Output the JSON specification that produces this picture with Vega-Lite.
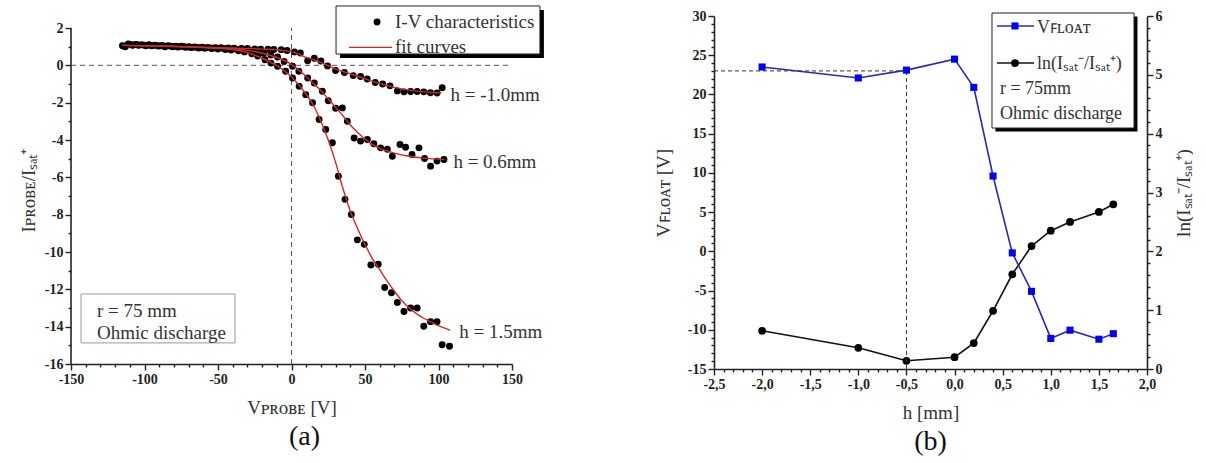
{
  "$schema": "https://vega.github.io/schema/vega-lite/v6.json",
  "background": "white",
  "padding": {"left": 19, "top": 5, "right": 0, "bottom": 0},
  "bounds": "flush",
  "spacing": 202,
  "config": {
    "view": {"stroke": null},
    "axis": {
      "grid": false,
      "labelFont": "Liberation Serif",
      "labelFontWeight": "bold",
      "labelFontSize": 14,
      "labelColor": "#222",
      "titleFont": "Liberation Serif",
      "titleFontWeight": "normal",
      "titleFontSize": 19,
      "titleColor": "#333",
      "domainColor": "#222",
      "domainWidth": 1.6,
      "tickColor": "#222",
      "tickWidth": 1.4,
      "labelOverlap": false,
      "labelFlush": false,
      "labelPadding": 2
    },
    "text": {"font": "Liberation Serif", "color": "#333"},
    "title": {"font": "Liberation Serif", "fontWeight": "normal", "fontSize": 28, "color": "#111"}
  },
  "datasets": {
    "iv": [
      {"h": "h = -1.0mm", "V": -115, "I": 1.05}, {"h": "h = -1.0mm", "V": -111, "I": 1.15}, {"h": "h = -1.0mm", "V": -106, "I": 1.12}, {"h": "h = -1.0mm", "V": -102, "I": 1.1}, {"h": "h = -1.0mm", "V": -97, "I": 1.1}, {"h": "h = -1.0mm", "V": -93, "I": 1.08}, {"h": "h = -1.0mm", "V": -88, "I": 1.07}, {"h": "h = -1.0mm", "V": -84, "I": 1.05}, {"h": "h = -1.0mm", "V": -79, "I": 1.03}, {"h": "h = -1.0mm", "V": -75, "I": 1.02}, {"h": "h = -1.0mm", "V": -70, "I": 1.0}, {"h": "h = -1.0mm", "V": -66, "I": 0.98}, {"h": "h = -1.0mm", "V": -61, "I": 0.97}, {"h": "h = -1.0mm", "V": -57, "I": 0.96}, {"h": "h = -1.0mm", "V": -52, "I": 0.95}, {"h": "h = -1.0mm", "V": -48, "I": 0.94}, {"h": "h = -1.0mm", "V": -43, "I": 0.93}, {"h": "h = -1.0mm", "V": -39, "I": 0.92}, {"h": "h = -1.0mm", "V": -34, "I": 0.9}, {"h": "h = -1.0mm", "V": -30, "I": 0.9}, {"h": "h = -1.0mm", "V": -25, "I": 0.88}, {"h": "h = -1.0mm", "V": -21, "I": 0.87}, {"h": "h = -1.0mm", "V": -16, "I": 0.86}, {"h": "h = -1.0mm", "V": -12, "I": 0.85}, {"h": "h = -1.0mm", "V": -7, "I": 0.84}, {"h": "h = -1.0mm", "V": -3, "I": 0.79}, {"h": "h = -1.0mm", "V": 2, "I": 0.72}, {"h": "h = -1.0mm", "V": 6, "I": 0.66}, {"h": "h = -1.0mm", "V": 11, "I": 0.25}, {"h": "h = -1.0mm", "V": 15.5, "I": 0.38}, {"h": "h = -1.0mm", "V": 20, "I": 0.23}, {"h": "h = -1.0mm", "V": 24.5, "I": -0.03}, {"h": "h = -1.0mm", "V": 30, "I": -0.28}, {"h": "h = -1.0mm", "V": 36, "I": -0.38}, {"h": "h = -1.0mm", "V": 42, "I": -0.55}, {"h": "h = -1.0mm", "V": 47, "I": -0.6}, {"h": "h = -1.0mm", "V": 51.5, "I": -0.73}, {"h": "h = -1.0mm", "V": 57, "I": -0.92}, {"h": "h = -1.0mm", "V": 62, "I": -1.0}, {"h": "h = -1.0mm", "V": 67, "I": -1.1}, {"h": "h = -1.0mm", "V": 72, "I": -1.37}, {"h": "h = -1.0mm", "V": 76.5, "I": -1.42}, {"h": "h = -1.0mm", "V": 81, "I": -1.4}, {"h": "h = -1.0mm", "V": 85.5, "I": -1.4}, {"h": "h = -1.0mm", "V": 90, "I": -1.42}, {"h": "h = -1.0mm", "V": 94.5, "I": -1.47}, {"h": "h = -1.0mm", "V": 99, "I": -1.48}, {"h": "h = -1.0mm", "V": 102.5, "I": -1.2},
      {"h": "h = 0.6mm", "V": -114, "I": 1.03}, {"h": "h = 0.6mm", "V": -109, "I": 1.1}, {"h": "h = 0.6mm", "V": -105, "I": 1.1}, {"h": "h = 0.6mm", "V": -100, "I": 1.08}, {"h": "h = 0.6mm", "V": -96, "I": 1.07}, {"h": "h = 0.6mm", "V": -91, "I": 1.05}, {"h": "h = 0.6mm", "V": -87, "I": 1.03}, {"h": "h = 0.6mm", "V": -82, "I": 1.03}, {"h": "h = 0.6mm", "V": -78, "I": 1.0}, {"h": "h = 0.6mm", "V": -73, "I": 1.0}, {"h": "h = 0.6mm", "V": -69, "I": 0.97}, {"h": "h = 0.6mm", "V": -64, "I": 0.96}, {"h": "h = 0.6mm", "V": -60, "I": 0.95}, {"h": "h = 0.6mm", "V": -55, "I": 0.93}, {"h": "h = 0.6mm", "V": -51, "I": 0.92}, {"h": "h = 0.6mm", "V": -46, "I": 0.9}, {"h": "h = 0.6mm", "V": -42, "I": 0.88}, {"h": "h = 0.6mm", "V": -37, "I": 0.85}, {"h": "h = 0.6mm", "V": -33, "I": 0.82}, {"h": "h = 0.6mm", "V": -28, "I": 0.78}, {"h": "h = 0.6mm", "V": -24, "I": 0.72}, {"h": "h = 0.6mm", "V": -19, "I": 0.64}, {"h": "h = 0.6mm", "V": -14, "I": 0.55}, {"h": "h = 0.6mm", "V": -9.5, "I": 0.45}, {"h": "h = 0.6mm", "V": -5, "I": 0.21}, {"h": "h = 0.6mm", "V": 0.7, "I": -0.05}, {"h": "h = 0.6mm", "V": 5, "I": -0.32}, {"h": "h = 0.6mm", "V": 11, "I": -0.68}, {"h": "h = 0.6mm", "V": 15.5, "I": -0.95}, {"h": "h = 0.6mm", "V": 21, "I": -1.39}, {"h": "h = 0.6mm", "V": 25, "I": -1.9}, {"h": "h = 0.6mm", "V": 30, "I": -2.3}, {"h": "h = 0.6mm", "V": 34.6, "I": -2.28}, {"h": "h = 0.6mm", "V": 38, "I": -3.0}, {"h": "h = 0.6mm", "V": 42.6, "I": -3.89}, {"h": "h = 0.6mm", "V": 47, "I": -4.06}, {"h": "h = 0.6mm", "V": 51.6, "I": -3.97}, {"h": "h = 0.6mm", "V": 56, "I": -4.2}, {"h": "h = 0.6mm", "V": 60.6, "I": -4.42}, {"h": "h = 0.6mm", "V": 65.2, "I": -4.5}, {"h": "h = 0.6mm", "V": 68.6, "I": -4.87}, {"h": "h = 0.6mm", "V": 73.8, "I": -4.24}, {"h": "h = 0.6mm", "V": 77.6, "I": -4.39}, {"h": "h = 0.6mm", "V": 82, "I": -4.78}, {"h": "h = 0.6mm", "V": 86.7, "I": -4.42}, {"h": "h = 0.6mm", "V": 90.5, "I": -4.99}, {"h": "h = 0.6mm", "V": 94.6, "I": -5.4}, {"h": "h = 0.6mm", "V": 99, "I": -5.13}, {"h": "h = 0.6mm", "V": 103.7, "I": -5.04},
      {"h": "h = 1.5mm", "V": -113, "I": 1.0}, {"h": "h = 1.5mm", "V": -108, "I": 1.08}, {"h": "h = 1.5mm", "V": -104, "I": 1.07}, {"h": "h = 1.5mm", "V": -99, "I": 1.05}, {"h": "h = 1.5mm", "V": -95, "I": 1.05}, {"h": "h = 1.5mm", "V": -90, "I": 1.03}, {"h": "h = 1.5mm", "V": -86, "I": 1.0}, {"h": "h = 1.5mm", "V": -81, "I": 1.0}, {"h": "h = 1.5mm", "V": -77, "I": 0.98}, {"h": "h = 1.5mm", "V": -72, "I": 0.97}, {"h": "h = 1.5mm", "V": -68, "I": 0.95}, {"h": "h = 1.5mm", "V": -63, "I": 0.93}, {"h": "h = 1.5mm", "V": -59, "I": 0.92}, {"h": "h = 1.5mm", "V": -54, "I": 0.9}, {"h": "h = 1.5mm", "V": -50, "I": 0.87}, {"h": "h = 1.5mm", "V": -45, "I": 0.85}, {"h": "h = 1.5mm", "V": -41, "I": 0.82}, {"h": "h = 1.5mm", "V": -36, "I": 0.78}, {"h": "h = 1.5mm", "V": -32, "I": 0.72}, {"h": "h = 1.5mm", "V": -27, "I": 0.62}, {"h": "h = 1.5mm", "V": -23, "I": 0.5}, {"h": "h = 1.5mm", "V": -18, "I": 0.3}, {"h": "h = 1.5mm", "V": -14, "I": 0.12}, {"h": "h = 1.5mm", "V": -9.5, "I": -0.05}, {"h": "h = 1.5mm", "V": -4, "I": -0.32}, {"h": "h = 1.5mm", "V": 0.7, "I": -0.68}, {"h": "h = 1.5mm", "V": 5.2, "I": -1.12}, {"h": "h = 1.5mm", "V": 9.7, "I": -1.57}, {"h": "h = 1.5mm", "V": 14.3, "I": -2.0}, {"h": "h = 1.5mm", "V": 18.8, "I": -2.9}, {"h": "h = 1.5mm", "V": 23.3, "I": -3.44}, {"h": "h = 1.5mm", "V": 27.8, "I": -4.15}, {"h": "h = 1.5mm", "V": 31.9, "I": -5.94}, {"h": "h = 1.5mm", "V": 36.4, "I": -7.18}, {"h": "h = 1.5mm", "V": 40.7, "I": -7.99}, {"h": "h = 1.5mm", "V": 44.8, "I": -9.35}, {"h": "h = 1.5mm", "V": 49.5, "I": -9.59}, {"h": "h = 1.5mm", "V": 54, "I": -10.7}, {"h": "h = 1.5mm", "V": 59, "I": -10.66}, {"h": "h = 1.5mm", "V": 63.4, "I": -11.9}, {"h": "h = 1.5mm", "V": 68, "I": -12.18}, {"h": "h = 1.5mm", "V": 72, "I": -12.7}, {"h": "h = 1.5mm", "V": 76.5, "I": -13.19}, {"h": "h = 1.5mm", "V": 81, "I": -13.0}, {"h": "h = 1.5mm", "V": 85.5, "I": -13.0}, {"h": "h = 1.5mm", "V": 90, "I": -13.98}, {"h": "h = 1.5mm", "V": 94.6, "I": -13.73}, {"h": "h = 1.5mm", "V": 99, "I": -13.73}, {"h": "h = 1.5mm", "V": 102.5, "I": -14.97}, {"h": "h = 1.5mm", "V": 107.5, "I": -15.05}
    ],
    "fit": [
      {"h": "h = -1.0mm", "V": -115, "I": 1.07}, {"h": "h = -1.0mm", "V": -90, "I": 1.04}, {"h": "h = -1.0mm", "V": -60, "I": 0.97}, {"h": "h = -1.0mm", "V": -40, "I": 0.93}, {"h": "h = -1.0mm", "V": -20, "I": 0.87}, {"h": "h = -1.0mm", "V": -10, "I": 0.83}, {"h": "h = -1.0mm", "V": 0, "I": 0.72}, {"h": "h = -1.0mm", "V": 5, "I": 0.6}, {"h": "h = -1.0mm", "V": 10, "I": 0.43}, {"h": "h = -1.0mm", "V": 15, "I": 0.3}, {"h": "h = -1.0mm", "V": 20, "I": 0.15}, {"h": "h = -1.0mm", "V": 25, "I": -0.02}, {"h": "h = -1.0mm", "V": 30, "I": -0.2}, {"h": "h = -1.0mm", "V": 40, "I": -0.45}, {"h": "h = -1.0mm", "V": 50, "I": -0.72}, {"h": "h = -1.0mm", "V": 60, "I": -0.97}, {"h": "h = -1.0mm", "V": 70, "I": -1.18}, {"h": "h = -1.0mm", "V": 80, "I": -1.33}, {"h": "h = -1.0mm", "V": 90, "I": -1.42}, {"h": "h = -1.0mm", "V": 102, "I": -1.47},
      {"h": "h = 0.6mm", "V": -115, "I": 1.07}, {"h": "h = 0.6mm", "V": -90, "I": 1.03}, {"h": "h = 0.6mm", "V": -60, "I": 0.96}, {"h": "h = 0.6mm", "V": -40, "I": 0.88}, {"h": "h = 0.6mm", "V": -30, "I": 0.8}, {"h": "h = 0.6mm", "V": -20, "I": 0.65}, {"h": "h = 0.6mm", "V": -10, "I": 0.42}, {"h": "h = 0.6mm", "V": 0, "I": 0.05}, {"h": "h = 0.6mm", "V": 10, "I": -0.6}, {"h": "h = 0.6mm", "V": 15, "I": -0.98}, {"h": "h = 0.6mm", "V": 20, "I": -1.35}, {"h": "h = 0.6mm", "V": 25, "I": -1.8}, {"h": "h = 0.6mm", "V": 30, "I": -2.25}, {"h": "h = 0.6mm", "V": 35, "I": -2.7}, {"h": "h = 0.6mm", "V": 40, "I": -3.2}, {"h": "h = 0.6mm", "V": 45, "I": -3.6}, {"h": "h = 0.6mm", "V": 50, "I": -3.95}, {"h": "h = 0.6mm", "V": 55, "I": -4.25}, {"h": "h = 0.6mm", "V": 60, "I": -4.45}, {"h": "h = 0.6mm", "V": 70, "I": -4.7}, {"h": "h = 0.6mm", "V": 80, "I": -4.87}, {"h": "h = 0.6mm", "V": 90, "I": -4.97}, {"h": "h = 0.6mm", "V": 104, "I": -5.05},
      {"h": "h = 1.5mm", "V": -115, "I": 1.07}, {"h": "h = 1.5mm", "V": -90, "I": 1.03}, {"h": "h = 1.5mm", "V": -60, "I": 0.95}, {"h": "h = 1.5mm", "V": -40, "I": 0.85}, {"h": "h = 1.5mm", "V": -30, "I": 0.68}, {"h": "h = 1.5mm", "V": -20, "I": 0.38}, {"h": "h = 1.5mm", "V": -10, "I": -0.02}, {"h": "h = 1.5mm", "V": 0, "I": -0.62}, {"h": "h = 1.5mm", "V": 10, "I": -1.55}, {"h": "h = 1.5mm", "V": 15, "I": -2.15}, {"h": "h = 1.5mm", "V": 20, "I": -3.0}, {"h": "h = 1.5mm", "V": 25, "I": -4.0}, {"h": "h = 1.5mm", "V": 30, "I": -5.2}, {"h": "h = 1.5mm", "V": 35, "I": -6.6}, {"h": "h = 1.5mm", "V": 40, "I": -7.8}, {"h": "h = 1.5mm", "V": 45, "I": -8.75}, {"h": "h = 1.5mm", "V": 50, "I": -9.6}, {"h": "h = 1.5mm", "V": 55, "I": -10.35}, {"h": "h = 1.5mm", "V": 60, "I": -10.95}, {"h": "h = 1.5mm", "V": 65, "I": -11.55}, {"h": "h = 1.5mm", "V": 70, "I": -12.1}, {"h": "h = 1.5mm", "V": 75, "I": -12.6}, {"h": "h = 1.5mm", "V": 80, "I": -13.0}, {"h": "h = 1.5mm", "V": 85, "I": -13.3}, {"h": "h = 1.5mm", "V": 90, "I": -13.55}, {"h": "h = 1.5mm", "V": 95, "I": -13.75}, {"h": "h = 1.5mm", "V": 100, "I": -13.95}, {"h": "h = 1.5mm", "V": 108, "I": -14.2}
    ],
    "hdata": [
      {"h": -2.0, "Vfloat": 23.5, "ln": 0.65},
      {"h": -1.0, "Vfloat": 22.1, "ln": 0.36},
      {"h": -0.5, "Vfloat": 23.1, "ln": 0.14},
      {"h": 0.0, "Vfloat": 24.5, "ln": 0.2},
      {"h": 0.2, "Vfloat": 20.9, "ln": 0.44},
      {"h": 0.4, "Vfloat": 9.6, "ln": 0.99},
      {"h": 0.6, "Vfloat": -0.2, "ln": 1.61},
      {"h": 0.8, "Vfloat": -5.1, "ln": 2.09},
      {"h": 1.0, "Vfloat": -11.1, "ln": 2.35},
      {"h": 1.2, "Vfloat": -10.05, "ln": 2.5},
      {"h": 1.5, "Vfloat": -11.2, "ln": 2.67},
      {"h": 1.65, "Vfloat": -10.5, "ln": 2.8}
    ]
  },
  "hconcat": [
    {
      "width": 441,
      "height": 348,
      "title": {"text": "(a)", "orient": "bottom", "offset": 6, "dx": 13},
      "layer": [
        {
          "data": {"values": [{}]},
          "mark": {"type": "rule", "strokeDash": [5, 4], "color": "#555", "strokeWidth": 1},
          "encoding": {
            "x": {"datum": -150, "type": "quantitative", "scale": {"domain": [-150, 150], "nice": false, "zero": false},
              "axis": {
                "title": "Vᴘʀᴏʙᴇ  [V]",
                "titlePadding": 12,
                "labelOverlap": false,
                "tickCount": 200,
                "values": [-150,-140,-130,-120,-110,-100,-90,-80,-70,-60,-50,-40,-30,-20,-10,0,10,20,30,40,50,60,70,80,90,100,110,120,130,140,150],
                "labelExpr": "datum.value % 50 === 0 ? toString(datum.value) : ''",
                "tickSize": {"condition": {"test": "datum.value % 50 === 0", "value": 6}, "value": 3}
              }},
            "x2": {"datum": 150},
            "y": {"datum": 0, "type": "quantitative", "scale": {"domain": [-16, 2.643], "nice": false, "zero": false},
              "axis": {
                "title": "Iᴘʀᴏʙᴇ/Iₛₐₜ⁺",
                "titlePadding": 6,
                "labelOverlap": false,
                "tickCount": 200,
                "domain": false,
                "values": [-16,-15,-14,-13,-12,-11,-10,-9,-8,-7,-6,-5,-4,-3,-2,-1,0,1,2],
                "labelExpr": "datum.value % 2 === 0 ? toString(datum.value) : ''",
                "tickSize": {"condition": {"test": "datum.value % 2 === 0", "value": 6}, "value": 3}
              }}
          }
        },
        {
          "data": {"values": [{}]},
          "mark": {"type": "rule", "strokeDash": [5, 4], "color": "#555", "strokeWidth": 1},
          "encoding": {"x": {"datum": 0, "type": "quantitative"}, "y": {"datum": -16, "type": "quantitative"}, "y2": {"datum": 2}}
        },
        {
          "data": {"values": [{}]},
          "mark": {"type": "rule", "color": "#222", "strokeWidth": 1.6},
          "encoding": {"x": {"datum": -150, "type": "quantitative"}, "y": {"datum": -16, "type": "quantitative"}, "y2": {"datum": 2}}
        },
        {
          "data": {"values": [{}]},
          "mark": {"type": "rect", "fill": "white", "stroke": "#999", "strokeWidth": 1},
          "encoding": {"x": {"datum": -143.2, "type": "quantitative"}, "x2": {"datum": -38.4}, "y": {"datum": -12.25, "type": "quantitative"}, "y2": {"datum": -14.87}}
        },
        {
          "data": {"values": [{}]},
          "mark": {"type": "text", "text": "r = 75 mm", "align": "left", "baseline": "middle", "fontSize": 19},
          "encoding": {"x": {"datum": -132.3, "type": "quantitative"}, "y": {"datum": -13.16, "type": "quantitative"}}
        },
        {
          "data": {"values": [{}]},
          "mark": {"type": "text", "text": "Ohmic discharge", "align": "left", "baseline": "middle", "fontSize": 19},
          "encoding": {"x": {"datum": -132.3, "type": "quantitative"}, "y": {"datum": -14.32, "type": "quantitative"}}
        },
        {
          "data": {"values": [{}]},
          "mark": {"type": "rect", "fill": "#000"},
          "encoding": {"x": {"datum": 33.0, "type": "quantitative"}, "x2": {"datum": 171.7}, "y": {"datum": 2.965, "type": "quantitative"}, "y2": {"datum": 0.394}}
        },
        {
          "data": {"values": [{}]},
          "mark": {"type": "rect", "fill": "white", "stroke": "#222", "strokeWidth": 1},
          "encoding": {"x": {"datum": 30.3, "type": "quantitative"}, "x2": {"datum": 169.0}, "y": {"datum": 3.18, "type": "quantitative"}, "y2": {"datum": 0.608}}
        },
        {
          "data": {"values": [{}]},
          "mark": {"type": "circle", "size": 48, "color": "#000", "opacity": 1},
          "encoding": {"x": {"datum": 58.2, "type": "quantitative"}, "y": {"datum": 2.32, "type": "quantitative"}}
        },
        {
          "data": {"values": [{}]},
          "mark": {"type": "rule", "color": "#cc2a2a", "strokeWidth": 1.4},
          "encoding": {"x": {"datum": 39.1, "type": "quantitative"}, "x2": {"datum": 68.4}, "y": {"datum": 0.96, "type": "quantitative"}}
        },
        {
          "data": {"values": [{}]},
          "mark": {"type": "text", "text": "I-V characteristics", "align": "left", "baseline": "middle", "fontSize": 19},
          "encoding": {"x": {"datum": 70.4, "type": "quantitative"}, "y": {"datum": 2.32, "type": "quantitative"}}
        },
        {
          "data": {"values": [{}]},
          "mark": {"type": "text", "text": "fit curves", "align": "left", "baseline": "middle", "fontSize": 19},
          "encoding": {"x": {"datum": 70.4, "type": "quantitative"}, "y": {"datum": 1.0, "type": "quantitative"}}
        },
        {
          "data": {"name": "iv"},
          "mark": {"type": "circle", "size": 48, "color": "#000", "opacity": 1},
          "encoding": {"x": {"field": "V", "type": "quantitative"}, "y": {"field": "I", "type": "quantitative"}}
        },
        {
          "data": {"name": "fit"},
          "mark": {"type": "line", "color": "#cc2a2a", "strokeWidth": 1.4, "interpolate": "monotone"},
          "encoding": {"x": {"field": "V", "type": "quantitative"}, "y": {"field": "I", "type": "quantitative"}, "detail": {"field": "h"}}
        },
        {
          "data": {"name": "fit"},
          "transform": [
            {"joinaggregate": [{"op": "max", "field": "V", "as": "maxV"}], "groupby": ["h"]},
            {"filter": "datum.V === datum.maxV"}
          ],
          "mark": {"type": "text", "align": "left", "baseline": "middle", "dx": 9, "dy": 2, "fontSize": 19},
          "encoding": {"x": {"field": "V", "type": "quantitative"}, "y": {"field": "I", "type": "quantitative"}, "text": {"field": "h"}}
        }
      ]
    },
    {
      "width": 433,
      "height": 353,
      "title": {"text": "(b)", "orient": "bottom", "offset": 6},
      "resolve": {"scale": {"y": "independent"}, "axis": {"y": "independent"}},
      "layer": [
        {
          "data": {"name": "hdata"},
          "layer": [
            {
              "mark": {"type": "line", "color": "#111", "strokeWidth": 1.6},
              "encoding": {
                "x": {"field": "h", "type": "quantitative", "scale": {"domain": [-2.5, 2.0], "nice": false, "zero": false},
                  "axis": {
                    "title": "h  [mm]",
                    "titlePadding": 12,
                    "labelOverlap": false,
                    "tickCount": 200,
                    "values": [-2.5,-2.4,-2.3,-2.2,-2.1,-2.0,-1.9,-1.8,-1.7,-1.6,-1.5,-1.4,-1.3,-1.2,-1.1,-1.0,-0.9,-0.8,-0.7,-0.6,-0.5,-0.4,-0.3,-0.2,-0.1,0,0.1,0.2,0.3,0.4,0.5,0.6,0.7,0.8,0.9,1.0,1.1,1.2,1.3,1.4,1.5,1.6,1.7,1.8,1.9,2.0],
                    "labelExpr": "abs(datum.value*2 - round(datum.value*2)) < 0.001 ? replace(replace(format(datum.value, '.1f'), '.', ','), '−', '-') : ''",
                    "tickSize": {"condition": {"test": "abs(datum.value*2 - round(datum.value*2)) < 0.001", "value": 6}, "value": 3}
                  }},
                "y": {"field": "ln", "type": "quantitative", "scale": {"domain": [0, 6], "nice": false, "zero": false},
                  "axis": {
                    "orient": "right",
                    "title": "ln(Iₛₐₜ⁻/Iₛₐₜ⁺)",
                    "titleAngle": 270,
                    "titleBaseline": "top",
                    "titlePadding": 12,
                    "labelOverlap": false,
                    "tickCount": 200,
                    "values": [0,0.2,0.4,0.6,0.8,1,1.2,1.4,1.6,1.8,2,2.2,2.4,2.6,2.8,3,3.2,3.4,3.6,3.8,4,4.2,4.4,4.6,4.8,5,5.2,5.4,5.6,5.8,6],
                    "labelExpr": "abs(datum.value - round(datum.value)) < 0.001 ? toString(round(datum.value)) : ''",
                    "tickSize": {"condition": {"test": "abs(datum.value - round(datum.value)) < 0.001", "value": 6}, "value": 3}
                  }}
              }
            },
            {
              "mark": {"type": "point", "shape": "circle", "filled": true, "color": "#000", "size": 60, "opacity": 1},
              "encoding": {"x": {"field": "h", "type": "quantitative"}, "y": {"field": "ln", "type": "quantitative"}}
            }
          ]
        },
        {
          "layer": [
            {
              "data": {"values": [{}]},
              "mark": {"type": "rule", "strokeDash": [4, 3], "color": "#333", "strokeWidth": 1},
              "encoding": {
                "x": {"datum": -2.5, "type": "quantitative"},
                "x2": {"datum": -0.5},
                "y": {"datum": 23, "type": "quantitative", "scale": {"domain": [-15, 30], "nice": false, "zero": false},
                  "axis": {
                    "orient": "left",
                    "title": "Vꜰʟᴏᴀᴛ  [V]",
                    "titlePadding": 14,
                    "labelOverlap": false,
                    "tickCount": 200,
                    "values": [-15,-14,-13,-12,-11,-10,-9,-8,-7,-6,-5,-4,-3,-2,-1,0,1,2,3,4,5,6,7,8,9,10,11,12,13,14,15,16,17,18,19,20,21,22,23,24,25,26,27,28,29,30],
                    "labelExpr": "datum.value % 5 === 0 ? toString(datum.value) : ''",
                    "tickSize": {"condition": {"test": "datum.value % 5 === 0", "value": 6}, "value": 3}
                  }}
              }
            },
            {
              "data": {"values": [{}]},
              "mark": {"type": "rule", "strokeDash": [4, 3], "color": "#333", "strokeWidth": 1},
              "encoding": {"x": {"datum": -0.5, "type": "quantitative"}, "y": {"datum": -15, "type": "quantitative"}, "y2": {"datum": 23}}
            },
            {
              "data": {"name": "hdata"},
              "mark": {"type": "line", "color": "#2a2ab0", "strokeWidth": 1.6},
              "encoding": {"x": {"field": "h", "type": "quantitative"}, "y": {"field": "Vfloat", "type": "quantitative"}}
            },
            {
              "data": {"name": "hdata"},
              "mark": {"type": "point", "shape": "square", "filled": true, "color": "#0000ee", "size": 50, "opacity": 1},
              "encoding": {"x": {"field": "h", "type": "quantitative"}, "y": {"field": "Vfloat", "type": "quantitative"}}
            },
            {
              "data": {"values": [{}]},
              "mark": {"type": "rect", "fill": "#000"},
              "encoding": {"x": {"datum": 0.425, "type": "quantitative"}, "x2": {"datum": 1.901}, "y": {"datum": 29.94, "type": "quantitative"}, "y2": {"datum": 15.28}}
            },
            {
              "data": {"values": [{}]},
              "mark": {"type": "rect", "fill": "white", "stroke": "#222", "strokeWidth": 1},
              "encoding": {"x": {"datum": 0.389, "type": "quantitative"}, "x2": {"datum": 1.865}, "y": {"datum": 30.38, "type": "quantitative"}, "y2": {"datum": 15.72}}
            },
            {
              "data": {"values": [{}]},
              "mark": {"type": "rule", "color": "#2a2ab0", "strokeWidth": 1.6},
              "encoding": {"x": {"datum": 0.441, "type": "quantitative"}, "x2": {"datum": 0.826}, "y": {"datum": 28.73, "type": "quantitative"}}
            },
            {
              "data": {"values": [{}]},
              "mark": {"type": "point", "shape": "square", "filled": true, "color": "#0000ee", "size": 50, "opacity": 1},
              "encoding": {"x": {"datum": 0.628, "type": "quantitative"}, "y": {"datum": 28.73, "type": "quantitative"}}
            },
            {
              "data": {"values": [{}]},
              "mark": {"type": "rule", "color": "#111", "strokeWidth": 1.6},
              "encoding": {"x": {"datum": 0.441, "type": "quantitative"}, "x2": {"datum": 0.826}, "y": {"datum": 24.0, "type": "quantitative"}}
            },
            {
              "data": {"values": [{}]},
              "mark": {"type": "point", "shape": "circle", "filled": true, "color": "#000", "size": 60, "opacity": 1},
              "encoding": {"x": {"datum": 0.628, "type": "quantitative"}, "y": {"datum": 24.0, "type": "quantitative"}}
            },
            {
              "data": {"values": [{}]},
              "mark": {"type": "text", "text": "Vꜰʟᴏᴀᴛ", "align": "left", "baseline": "middle", "fontSize": 18},
              "encoding": {"x": {"datum": 0.857, "type": "quantitative"}, "y": {"datum": 28.5, "type": "quantitative"}}
            },
            {
              "data": {"values": [{}]},
              "mark": {"type": "text", "text": "ln(Iₛₐₜ⁻/Iₛₐₜ⁺)", "align": "left", "baseline": "middle", "fontSize": 18},
              "encoding": {"x": {"datum": 0.857, "type": "quantitative"}, "y": {"datum": 23.9, "type": "quantitative"}}
            },
            {
              "data": {"values": [{}]},
              "mark": {"type": "text", "text": "r = 75mm", "align": "left", "baseline": "middle", "fontSize": 18},
              "encoding": {"x": {"datum": 0.472, "type": "quantitative"}, "y": {"datum": 20.69, "type": "quantitative"}}
            },
            {
              "data": {"values": [{}]},
              "mark": {"type": "text", "text": "Ohmic discharge", "align": "left", "baseline": "middle", "fontSize": 18},
              "encoding": {"x": {"datum": 0.472, "type": "quantitative"}, "y": {"datum": 17.51, "type": "quantitative"}}
            }
          ]
        }
      ]
    }
  ]
}
